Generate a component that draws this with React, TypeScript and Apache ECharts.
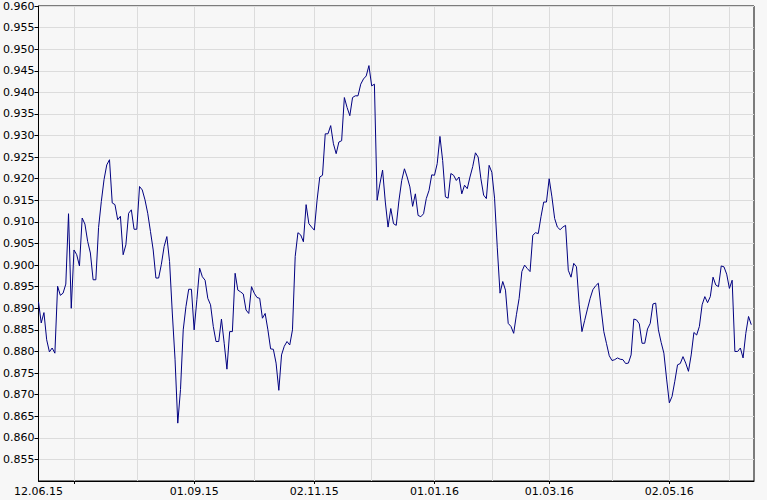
import React, { useEffect, useRef } from 'react';
import * as echarts from 'echarts';

// Trading days (weekdays) starting at the first category
const START_DATE = '2015-06-12';
const CATEGORY_COUNT = 263;

// Vertical grid lines (first trading day of each month)
const gridDates = ['01.07.15', '03.08.15', '01.09.15', '01.10.15', '02.11.15', '01.12.15', '01.01.16', '01.02.16', '01.03.16', '01.04.16', '02.05.16', '01.06.16'];
// Axis ticks
const tickDates = ['01.07.15', '01.09.15', '02.11.15', '01.01.16', '01.03.16', '02.05.16'];
// Axis labels
const labelDates = ['12.06.15', '01.09.15', '02.11.15', '01.01.16', '01.03.16', '02.05.16'];

const rates: (number | null)[] = [
  0.8915, 0.8866, 0.8890, 0.8827, 0.8799, 0.8808, 0.8796, 0.8951, 0.8930, 0.8935,
  0.8956, 0.9119, 0.8900, 0.9035, 0.9024, 0.8998, 0.9109, 0.9095, 0.9055, 0.9028,
  0.8966, 0.8966, 0.9087, 0.9147, 0.9198, 0.9232, 0.9244, 0.9144, 0.9140, 0.9105,
  0.9113, 0.9024, 0.9047, 0.9120, 0.9128, 0.9083, 0.9083, 0.9182, 0.9174, 0.9151,
  0.9120, 0.9078, 0.9035, 0.8970, 0.8970, 0.9002, 0.9043, 0.9066, 0.9008, 0.8889,
  0.8782, 0.8634, 0.8712, 0.8850, 0.8904, 0.8944, 0.8944, 0.8850, 0.8920, 0.8993,
  0.8973, 0.8965, 0.8923, 0.8908, 0.8858, 0.8823, 0.8823, 0.8875, 0.8819, 0.8759,
  0.8846, 0.8846, 0.8981, 0.8942, 0.8938, 0.8933, 0.8896, 0.8888, 0.8950, 0.8935,
  0.8925, 0.8923, 0.8877, 0.8888, 0.8850, 0.8806, 0.8805, 0.8773, 0.8710, 0.8792,
  0.8812, 0.8823, 0.8815, 0.8850, 0.9020, 0.9075, 0.9070, 0.9054, 0.9140, 0.9096,
  0.9088, 0.9081, 0.9150, 0.9204, 0.9208, 0.9304, 0.9304, 0.9323, 0.9281, 0.9258,
  0.9285, 0.9288, 0.9388, 0.9365, 0.9346, 0.9388, 0.9392, 0.9392, 0.9419, 0.9431,
  0.9438, 0.9462, 0.9415, 0.9419, 0.9150, 0.9188, 0.9220, 0.9146, 0.9088, 0.9131,
  0.9096, 0.9092, 0.9150, 0.9196, 0.9223, 0.9204, 0.9181, 0.9136, 0.9165, 0.9115,
  0.9112, 0.9119, 0.9154, 0.9173, 0.9209, 0.9208, 0.9235, 0.9298, 0.9242, 0.9158,
  0.9155, 0.9212, 0.9208, 0.9196, 0.9204, 0.9165, 0.9185, 0.9177, 0.9204, 0.9228,
  0.9260, 0.9250, 0.9200, 0.9162, 0.9154, 0.9231, 0.9215, 0.9155, 0.9040, 0.8935,
  0.8962, 0.8942, 0.8865, 0.8858, 0.8842, 0.8885, 0.8923, 0.8985, 0.9000, 0.8992,
  0.8985, 0.9069, 0.9075, 0.9073, 0.9112, 0.9146, 0.9146, 0.9200, 0.9158, 0.9108,
  0.9088, 0.9082, 0.9088, 0.9092, 0.8988, 0.8972, 0.9004, 0.8996, 0.8908, 0.8846,
  0.8872, 0.8898, 0.8923, 0.8943, 0.8952, 0.8958, 0.8900, 0.8846, 0.8818, 0.8790,
  0.8779, 0.8781, 0.8785, 0.8782, 0.8781, 0.8772, 0.8773, 0.8792, 0.8875, 0.8873,
  0.8864, 0.8819, 0.8819, 0.8852, 0.8865, 0.8910, 0.8912, 0.8850, 0.8821, 0.8796,
  0.8736, 0.8681, 0.8696, 0.8731, 0.8769, 0.8772, 0.8788, 0.8773, 0.8754, 0.8792,
  0.8844, 0.8838, 0.8858, 0.8908, 0.8927, 0.8913, 0.8927, 0.8972, 0.8954, 0.8950,
  0.8998, 0.8996, 0.8979, 0.8946, 0.8965, 0.8800, 0.8800, 0.8808, 0.8785, 0.8842,
  0.8881, 0.8862, null,
];

function weekdayLabels(start: string, n: number): string[] {
  const out: string[] = [];
  const d = new Date(start + 'T00:00:00Z');
  while (out.length < n) {
    const wd = d.getUTCDay();
    if (wd !== 0 && wd !== 6) {
      const dd = String(d.getUTCDate()).padStart(2, '0');
      const mm = String(d.getUTCMonth() + 1).padStart(2, '0');
      const yy = String(d.getUTCFullYear()).slice(2);
      out.push(`${dd}.${mm}.${yy}`);
    }
    d.setUTCDate(d.getUTCDate() + 1);
  }
  return out;
}

const FONT = 'DejaVu Sans';

export default function App() {
  const ref = useRef<HTMLDivElement>(null);
  useEffect(() => {
    if (!ref.current) return;
    const chart = echarts.init(ref.current, undefined, { renderer: 'svg' });
    const categories = weekdayLabels(START_DATE, CATEGORY_COUNT);
    chart.setOption({
      animation: false,
      backgroundColor: '#f7f7f7',
      grid: {
        left: 38,
        right: 13,
        top: 6,
        bottom: 19,
        show: true,
        backgroundColor: '#f7f7f7',
        borderColor: '#000',
        borderWidth: 1,
      },
      xAxis: {
        type: 'category',
        data: categories,
        boundaryGap: false,
        axisLine: { show: true, lineStyle: { color: '#000', width: 1 } },
        axisTick: {
          show: true,
          interval: (_i: number, v: string) => tickDates.includes(v),
          length: 3,
          lineStyle: { color: '#000' },
        },
        axisLabel: {
          interval: (_i: number, v: string) => labelDates.includes(v),
          color: '#000',
          fontFamily: FONT,
          fontSize: 11,
          margin: 5,
        },
        splitLine: {
          show: true,
          interval: (_i: number, v: string) => gridDates.includes(v),
          lineStyle: { color: '#dcdcdc', width: 1 },
        },
      },
      yAxis: {
        type: 'value',
        min: 0.85,
        max: 0.96,
        interval: 0.005,
        axisLine: { show: true, lineStyle: { color: '#000', width: 1 } },
        axisTick: { show: true, length: 4, lineStyle: { color: '#000' } },
        axisLabel: {
          formatter: (v: number) => v.toFixed(3),
          showMinLabel: false,
          color: '#000',
          fontFamily: FONT,
          fontSize: 11,
          margin: 4,
        },
        splitLine: { show: true, lineStyle: { color: '#dcdcdc', width: 1 } },
      },
      series: [
        {
          type: 'line',
          data: rates,
          symbol: 'none',
          connectNulls: false,
          lineStyle: { color: '#000080', width: 1 },
        },
      ],
    });
    return () => chart.dispose();
  }, []);
  return (
    <div
      ref={ref}
      style={{ position: 'fixed', left: 0, top: 0, width: 767, height: 500 }}
    />
  );
}
